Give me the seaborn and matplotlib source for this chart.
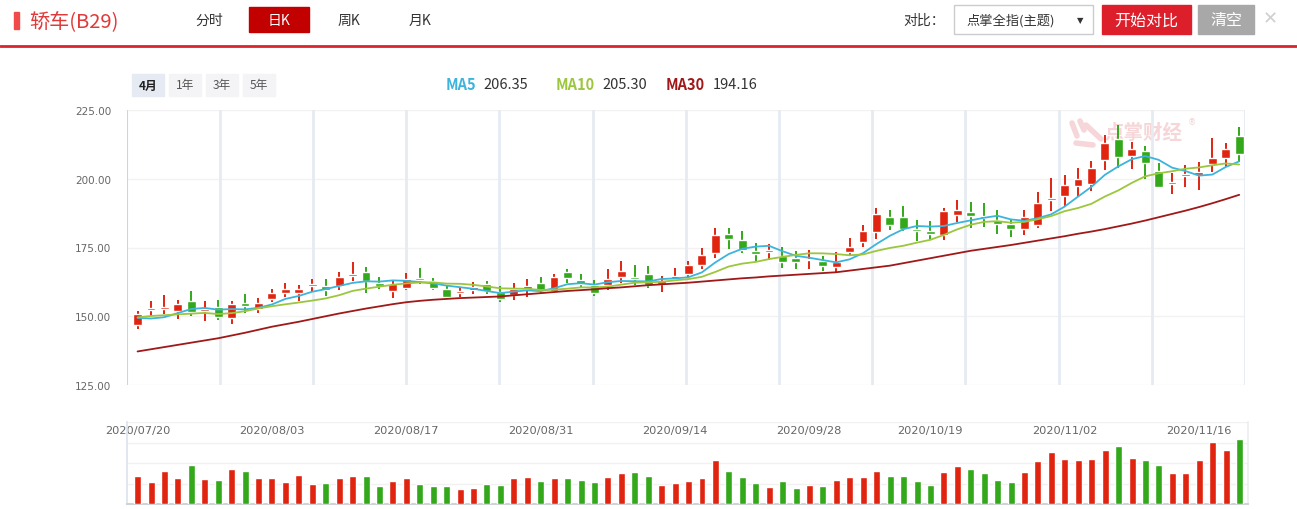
import numpy as np
import pandas as pd
import matplotlib
matplotlib.use("Agg")
import matplotlib.pyplot as plt
from matplotlib.patches import Rectangle
import seaborn as sns

# trading days 2020-07-20 .. 2020-11-19 (national day holiday has no trading)
days = pd.bdate_range("2020-07-20", "2020-11-19")
days = days[(days < "2020-10-01") | (days > "2020-10-08")]

open_ = [146.9, 152.4, 152.6, 151.9, 155.5, 151.9, 153.4, 149.5, 154.8, 152.6,
         156.3, 158.5, 158.5, 161.1, 161.0, 161.0, 164.8, 166.1, 162.1, 159.2,
         160.3, 163.9, 162.8, 159.9, 158.6, 159.5, 161.7, 158.8, 157.7, 159.9,
         162.1, 159.2, 166.1, 163.2, 161.4, 161.4, 164.3, 164.3, 165.4, 161.7,
         163.5, 165.4, 168.6, 173.0, 179.9, 177.7, 173.7, 173.5, 171.9, 171.2,
         170.3, 170.1, 167.9, 173.4, 177.0, 180.6, 186.1, 186.1, 181.7, 181.0,
         179.5, 186.8, 187.9, 186.6, 185.0, 183.6, 181.7, 183.2, 192.3, 193.7,
         197.4, 198.1, 206.8, 214.5, 208.3, 210.1, 202.8, 198.2, 201.0, 201.4,
         205.4, 207.6, 215.5]
high_ = [151.9, 155.5, 157.7, 156.0, 159.2, 155.5, 155.9, 155.5, 158.1, 156.6,
         159.9, 162.1, 161.4, 163.5, 163.5, 166.1, 169.7, 167.9, 164.3, 162.8,
         165.7, 167.5, 163.9, 161.0, 160.6, 162.5, 162.8, 161.0, 162.1, 163.5,
         164.3, 165.4, 167.2, 165.4, 163.2, 167.2, 170.1, 168.6, 168.3, 164.6,
         167.5, 170.1, 174.8, 182.1, 182.1, 181.0, 176.6, 176.3, 175.2, 173.7,
         174.1, 171.9, 173.4, 178.5, 183.2, 189.4, 188.6, 190.1, 185.0, 184.6,
         189.4, 192.3, 191.5, 191.2, 188.6, 185.4, 188.6, 195.2, 200.3, 201.4,
         203.9, 206.5, 215.9, 219.5, 213.4, 211.9, 205.7, 202.1, 205.0, 206.1,
         214.8, 213.0, 218.8]
low_ = [145.4, 150.2, 150.7, 149.0, 150.2, 148.3, 148.8, 147.3, 151.3, 151.2,
        155.3, 157.0, 155.5, 158.7, 157.5, 159.5, 162.8, 158.5, 159.9, 156.6,
        159.5, 161.7, 159.5, 156.3, 157.0, 158.1, 158.1, 155.3, 155.9, 157.0,
        158.5, 158.5, 162.1, 160.3, 157.4, 159.5, 162.1, 161.4, 160.3, 158.8,
        162.8, 163.9, 167.2, 171.2, 174.5, 173.0, 170.1, 170.5, 167.5, 167.2,
        167.2, 166.5, 166.1, 171.9, 175.2, 178.1, 181.4, 181.0, 177.4, 178.1,
        177.7, 184.3, 182.1, 182.5, 179.9, 178.8, 179.6, 182.1, 188.3, 190.1,
        193.4, 195.6, 203.2, 203.9, 203.6, 199.9, 196.6, 194.5, 197.0, 195.9,
        202.5, 204.3, 206.1]
close_ = [150.7, 152.9, 153.4, 154.5, 151.7, 152.6, 149.8, 154.5, 153.8, 154.8,
          158.5, 159.9, 159.9, 161.5, 159.5, 164.3, 165.4, 162.8, 161.0, 161.7,
          163.5, 163.2, 160.3, 157.0, 158.8, 160.6, 159.2, 156.4, 159.9, 161.0,
          159.2, 164.3, 163.9, 161.7, 158.5, 163.5, 166.5, 163.5, 161.4, 162.8,
          164.6, 168.6, 172.3, 179.5, 178.1, 174.1, 172.6, 173.8, 169.7, 169.7,
          170.6, 168.3, 169.7, 175.2, 181.0, 187.2, 183.2, 181.7, 181.0, 179.9,
          188.3, 188.6, 186.5, 185.7, 183.6, 181.7, 186.1, 191.2, 192.6, 197.7,
          199.9, 203.9, 213.0, 207.9, 210.8, 205.7, 197.0, 198.8, 201.7, 202.5,
          207.6, 210.8, 209.0]
volume = [82, 64, 97, 76, 115, 73, 70, 103, 97, 76, 76, 64, 85, 58, 61, 76, 82, 82,
          52, 67, 76, 58, 52, 52, 43, 46, 58, 55, 76, 79, 67, 76, 76, 70, 64, 79,
          91, 94, 82, 55, 61, 67, 76, 130, 97, 79, 61, 49, 67, 46, 55, 52, 70, 79,
          79, 97, 82, 82, 67, 55, 94, 112, 103, 91, 70, 64, 94, 127, 151, 133, 130,
          133, 157, 169, 136, 130, 115, 91, 91, 130, 181, 157, 190]
# closes before 07/20 (needed for the first MA5 / MA10 points)
prior_close = [148.0, 150.5, 151.5, 149.0, 150.0, 154.0, 151.0, 147.0, 144.3]
ma30 = [137.2, 138.0, 138.8, 139.6, 140.4, 141.2, 142.0, 143.0, 144.0, 145.1,
        146.2, 147.1, 148.0, 149.0, 150.0, 151.0, 151.9, 152.8, 153.6, 154.4,
        155.1, 155.6, 156.0, 156.3, 156.6, 156.8, 157.0, 157.2, 157.6, 158.0,
        158.4, 158.8, 159.2, 159.5, 159.8, 160.2, 160.5, 160.9, 161.3, 161.6,
        161.9, 162.2, 162.6, 163.0, 163.4, 163.8, 164.1, 164.5, 164.8, 165.1,
        165.4, 165.7, 166.0, 166.6, 167.2, 167.8, 168.4, 169.3, 170.2, 171.1,
        172.0, 172.9, 173.8, 174.5, 175.2, 175.9, 176.7, 177.5, 178.3, 179.1,
        180.0, 180.8, 181.7, 182.7, 183.7, 184.8, 186.0, 187.2, 188.4, 189.7,
        191.1, 192.6, 194.16]

tick_dates = ["2020/07/20", "2020/08/03", "2020/08/17", "2020/08/31", "2020/09/14",
              "2020/09/28", "2020/10/19", "2020/11/02", "2020/11/16"]
price_ticks = [125, 150, 175, 200, 225]
ma_names = ["MA5", "MA10", "MA30"]
ma_values = ["206.35", "205.30", "194.16"]
range_buttons = ["4月", "1年", "3年", "5年"]
period_tabs = ["分时", "日K", "周K", "月K"]

RED = "#e02410"
GREEN = "#32a81a"
MA_COLORS = ["#3cb4dc", "#9cc63e", "#a01818"]

df = pd.DataFrame({"date": days, "open": open_, "high": high_, "low": low_,
                   "close": close_, "volume": volume, "ma30": ma30})
df["idx"] = np.arange(len(df))
df["dir"] = np.where(df["close"] >= df["open"], "up", "down")
all_close = pd.Series(prior_close + close_)
df["ma5"] = all_close.rolling(5).mean().iloc[len(prior_close):].values
df["ma10"] = all_close.rolling(10).mean().iloc[len(prior_close):].values
colors = np.where(df["dir"] == "up", RED, GREEN)

sns.set_theme(style="white")
plt.rcParams["font.family"] = ["Noto Sans CJK SC", "DejaVu Sans"]

W, H = 1297, 510
fig = plt.figure(figsize=(W / 100, H / 100), dpi=100)
fig.patch.set_facecolor("white")

# overlay in pixel coordinates for the page furniture
ov = fig.add_axes([0, 0, 1, 1], zorder=0)
ov.set_xlim(0, W)
ov.set_ylim(H, 0)
ov.axis("off")

xmin, xmax = -0.81, 82.43
ax = fig.add_axes([126.7 / W, 1 - 386 / H, (1245 - 126.7) / W, 275 / H], zorder=1)
axv = fig.add_axes([126.7 / W, 1 - 505 / H, (1248 - 126.7) / W, 82 / H], zorder=1)
for a in (ax, axv):
    a.set_facecolor("none")

# ---- header ----
ov.add_patch(Rectangle((14, 13), 5, 17, color="#f04a4a"))
ov.text(29, 22, "轿车(B29)", fontsize=14.5, color="#e03a3a", va="center")
tab_x = [209, 279, 349, 420]
for name, x in zip(period_tabs, tab_x):
    if name == "日K":
        ov.add_patch(Rectangle((249, 8), 60, 25, color="#c30000"))
        ov.text(x, 21, name, fontsize=10, color="white", ha="center", va="center")
    else:
        ov.text(x, 21, name, fontsize=10, color="#333333", ha="center", va="center")
ov.plot([0, W], [47, 47], color="#d9252b", lw=2)

ov.text(903, 21, "对比：", fontsize=10, color="#333333", va="center")
ov.add_patch(Rectangle((954, 6), 139, 29, facecolor="white", edgecolor="#cccccc", lw=1))
ov.text(966, 21, "点掌全指(主题)", fontsize=9.5, color="#333333", va="center")
ov.text(1080, 21, "▼", fontsize=6, color="#333333", ha="center", va="center",
        family="DejaVu Sans")
ov.add_patch(Rectangle((1102, 6), 89, 29, color="#dc1f2b"))
ov.text(1146.5, 21, "开始对比", fontsize=11.5, color="white", ha="center", va="center")
ov.add_patch(Rectangle((1198, 6), 56, 29, color="#a8a8a8"))
ov.text(1226, 21, "清空", fontsize=11.5, color="white", ha="center", va="center")
ov.text(1270, 19, "✕", fontsize=13, color="#d0d0d0", ha="center", va="center",
        family="DejaVu Sans")

# range buttons
btn_x = [132, 169, 206, 243]
for name, x in zip(range_buttons, btn_x):
    sel = name == "4月"
    ov.add_patch(Rectangle((x, 75), 32, 22, color="#e6eaf3" if sel else "#f4f4f6"))
    ov.text(x + 16, 86, name, fontsize=8.5, color="#222222" if sel else "#555555",
            ha="center", va="center", fontweight="bold" if sel else "normal")

# MA legend
ma_x = [446, 556, 666]
ma_w = [37, 46, 47]
for name, val, x, w, c in zip(ma_names, ma_values, ma_x, ma_w, MA_COLORS):
    ov.text(x, 85, name, fontsize=10.5, color=c, fontweight="bold", va="center")
    ov.text(x + w, 85, val, fontsize=10.5, color="#333333", va="center")

# watermark
ov.text(1143, 133, "点掌财经", fontsize=14, color="#f6d6d8", fontweight="bold",
        ha="center", va="center")
ov.text(1192, 123, "®", fontsize=6, color="#f2d0d2", ha="center", va="center",
        family="DejaVu Sans")
for (x0, y0, x1, y1) in [(1072, 124, 1077, 137), (1080, 122, 1084, 131),
                         (1086, 126, 1101, 140), (1076, 144, 1093, 146)]:
    ov.plot([x0, x1], [y0, y1], color="#f6d6d8", lw=4, solid_capstyle="round")

# ---- price panel ----
for y in price_ticks:
    ax.axhline(y, color="#f2f2f2", lw=1, zorder=0)
grid_x = np.linspace(xmin, xmax, 13)
for xv in grid_x[1:]:
    ax.axvline(xv, color="#e6ebf2", lw=2, zorder=0)
ax.axvline(grid_x[0], color="#c8d6ec", lw=1.5, zorder=1)

ax.vlines(df["idx"], df["low"], df["high"], colors=colors, lw=1.4, zorder=3)
body = np.maximum((df["close"] - df["open"]).abs(), 0.55)
ax.bar(df["idx"], body, bottom=np.minimum(df["open"], df["close"]), width=0.66,
       color=colors, zorder=4)

for col, c in zip(["ma5", "ma10", "ma30"], MA_COLORS):
    sns.lineplot(data=df, x="idx", y=col, ax=ax, color=c, lw=1.3, zorder=5)

ax.set_xlim(xmin, xmax)
ax.set_ylim(125, 225)
ax.set_xlabel("")
ax.set_ylabel("")
for s in ax.spines.values():
    s.set_visible(False)
ax.set_yticks(price_ticks)
ax.set_yticklabels([f"{v:.2f}" for v in price_ticks])
tick_idx = [int(np.where(df["date"].dt.strftime("%Y/%m/%d") == d)[0][0]) for d in tick_dates]
ax.set_xticks(tick_idx)
ax.set_xticklabels(tick_dates)
ax.tick_params(axis="y", length=0, pad=11, labelsize=7.5, labelcolor="#666666")
ax.tick_params(axis="x", length=0, pad=29, labelsize=8.2, labelcolor="#666666")
for lbl in ax.get_xticklabels() + ax.get_yticklabels():
    lbl.set_fontfamily("DejaVu Sans")

# ---- volume panel ----
for y in [60, 120, 180, 240]:
    axv.axhline(y, color="#f1f1f1", lw=1, zorder=0)
sns.barplot(data=df, x="idx", y="volume", hue="dir",
            palette={"up": RED, "down": GREEN}, native_scale=True, dodge=False,
            width=0.52, errorbar=None, legend=False, saturation=1, ax=axv, zorder=3)
axv.set_xlim(xmin, xmax + 0.2)
axv.set_ylim(0, 240)
axv.set_xlabel("")
axv.set_ylabel("")
axv.set_xticks([])
axv.set_yticks([])
axv.spines["top"].set_visible(False)
axv.spines["left"].set_color("#dde4ee")
axv.spines["right"].set_color("#eeeeee")
axv.spines["bottom"].set_color("#cfd3d8")
axv.spines["bottom"].set_linewidth(1.5)

fig.savefig("out.png", dpi=100, facecolor="white")
